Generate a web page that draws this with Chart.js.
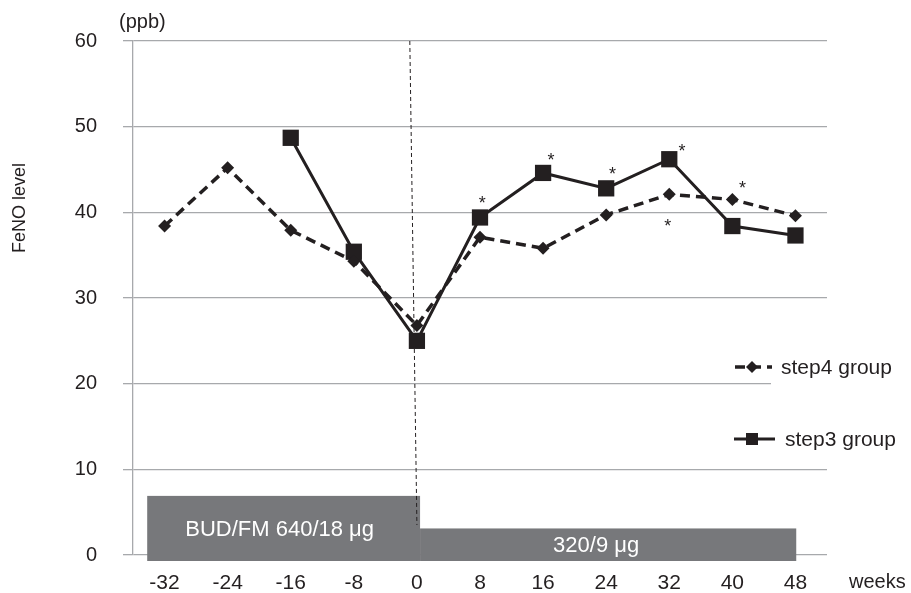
<!DOCTYPE html>
<html>
<head>
<meta charset="utf-8">
<script src="https://cdn.jsdelivr.net/npm/chart.js@4.4.1/dist/chart.umd.min.js"></script>
<style>
  html, body { margin: 0; padding: 0; background: #fff; }
  #wrap { width: 911px; height: 593px; }
</style>
</head>
<body>
<div id="wrap"><canvas id="chart" width="911" height="593"></canvas></div>
<script>
// weeks on the x axis
const weeks = [-32, -24, -16, -8, 0, 8, 16, 24, 32, 40, 48];
// FeNO level (ppb)
const step4 = [38.4, 45.2, 37.9, 34.3, 26.8, 37.1, 35.8, 39.7, 42.1, 41.5, 39.6];
const step3 = [null, null, 48.7, 35.4, 25.0, 39.4, 44.6, 42.8, 46.2, 38.4, 37.3];
const yTicks = [0, 10, 20, 30, 40, 50, 60];

// treatment phases (weeks from / to, bar height in ppb)
const phaseLabels = ['BUD/FM 640/18 \u03bcg', '320/9 \u03bcg'];
const phaseFrom = [-34.2, 0.4];
const phaseTo = [0.4, 48.1];
const phaseTop = [6.9, 3.1];
const phaseFloor = -0.7;

// significance marks (*): week, value
const starWeeks = [8.3, 17.0, 24.8, 33.6, 41.3, 31.8];
const starValues = [41.6, 46.6, 45.0, 47.6, 43.3, 38.9];

const ink = '#231f20';
const font = 'Liberation Sans, Arial, Helvetica, sans-serif';

const extras = {
  id: 'extras',
  beforeDatasetsDraw(chart) {
    const { ctx, scales: { x, y } } = chart;
    ctx.save();
    // gray treatment bars
    ctx.fillStyle = '#77787b';
    for (let i = 0; i < phaseLabels.length; i++) {
      const x0 = x.getPixelForValue(phaseFrom[i]);
      const x1 = x.getPixelForValue(phaseTo[i]);
      const y0 = y.getPixelForValue(phaseTop[i]);
      const y1 = y.getPixelForValue(phaseFloor);
      ctx.fillRect(x0, y0, x1 - x0, y1 - y0);
    }
    ctx.fillStyle = '#fff';
    ctx.textAlign = 'center';
    ctx.textBaseline = 'middle';
    ctx.font = '22px ' + font;
    const shift = [-4, -12];
    for (let i = 0; i < phaseLabels.length; i++) {
      const cx = (x.getPixelForValue(phaseFrom[i]) + x.getPixelForValue(phaseTo[i])) / 2 + shift[i];
      const cy = (y.getPixelForValue(phaseTop[i]) + y.getPixelForValue(phaseFloor)) / 2 + 1;
      ctx.fillText(phaseLabels[i], cx, cy);
    }
    // dashed switch line
    ctx.strokeStyle = ink;
    ctx.lineWidth = 1;
    ctx.setLineDash([4, 3]);
    ctx.beginPath();
    ctx.moveTo(x.getPixelForValue(-0.9), y.getPixelForValue(60));
    ctx.lineTo(x.getPixelForValue(0), y.getPixelForValue(phaseTop[1] + 0.4));
    ctx.stroke();
    ctx.restore();
  },
  afterDraw(chart) {
    const { ctx, scales: { x, y } } = chart;
    ctx.save();
    ctx.fillStyle = ink;
    // asterisks
    ctx.font = '18px ' + font;
    ctx.textAlign = 'center';
    ctx.textBaseline = 'alphabetic';
    for (let i = 0; i < starWeeks.length; i++) {
      ctx.fillText('*', x.getPixelForValue(starWeeks[i]), y.getPixelForValue(starValues[i]) + 10);
    }
    // titles
    ctx.textBaseline = 'middle';
    ctx.font = '20px ' + font;
    ctx.textAlign = 'left';
    ctx.fillText('(ppb)', 119, 22);
    ctx.font = '20px ' + font;
    ctx.fillText('weeks', 849, 582);
    ctx.save();
    ctx.translate(20, 208);
    ctx.rotate(-Math.PI / 2);
    ctx.textAlign = 'center';
    ctx.font = '18px ' + font;
    ctx.fillText('FeNO level', 0, 0);
    ctx.restore();

    // legend
    ctx.fillStyle = '#fff';
    ctx.fillRect(771, 350, 140, 105);
    ctx.fillStyle = ink;
    ctx.strokeStyle = ink;
    ctx.font = '21px ' + font;
    ctx.textAlign = 'left';
    // step4
    ctx.lineWidth = 3.5;
    ctx.setLineDash([10, 6]);
    ctx.beginPath();
    ctx.moveTo(735, 367); ctx.lineTo(772, 367); ctx.stroke();
    ctx.setLineDash([]);
    ctx.beginPath();
    ctx.moveTo(752, 361); ctx.lineTo(758, 367); ctx.lineTo(752, 373); ctx.lineTo(746, 367);
    ctx.closePath(); ctx.fill();
    ctx.fillText('step4 group', 781, 368);
    // step3
    ctx.lineWidth = 3;
    ctx.beginPath();
    ctx.moveTo(734, 439); ctx.lineTo(775, 439); ctx.stroke();
    ctx.fillRect(746, 433, 12, 12);
    ctx.fillText('step3 group', 785, 440);
    ctx.restore();
  }
};

new Chart(document.getElementById('chart'), {
  type: 'line',
  data: {
    datasets: [
      {
        label: 'step4 group',
        data: weeks.map((w, i) => ({ x: w, y: step4[i] })),
        borderColor: ink,
        backgroundColor: ink,
        borderWidth: 3.5,
        borderDash: [10, 6],
        pointStyle: 'rectRot',
        pointRadius: 6.5,
        pointBorderWidth: 0,
        tension: 0
      },
      {
        label: 'step3 group',
        data: weeks.map((w, i) => ({ x: w, y: step3[i] })),
        borderColor: ink,
        backgroundColor: ink,
        borderWidth: 3,
        pointStyle: 'rect',
        pointRadius: 11.5,
        pointBorderWidth: 0,
        tension: 0
      }
    ]
  },
  options: {
    responsive: false,
    animation: false,
    layout: { padding: { top: 41, right: 84, left: 0, bottom: 0 } },
    plugins: { legend: { display: false }, tooltip: { enabled: false } },
    scales: {
      x: {
        type: 'linear',
        min: -36,
        max: 52,
        afterBuildTicks: s => { s.ticks = weeks.map(v => ({ value: v })); },
        afterFit: s => { s.height = 38; },
        grid: { display: false, drawTicks: false },
        border: { display: false },
        ticks: { color: ink, font: { family: font, size: 21 }, padding: 16 }
      },
      y: {
        min: 0,
        max: 60,
        afterBuildTicks: s => { s.ticks = yTicks.map(v => ({ value: v })); },
        afterFit: s => { s.width = 133; },
        grid: { color: '#a7a9ac', lineWidth: 1.3, tickLength: 10 },
        border: { color: '#a7a9ac', width: 1.3 },
        ticks: { color: ink, font: { family: font, size: 20 }, padding: 26 }
      }
    }
  },
  plugins: [extras]
});
</script>
</body>
</html>
